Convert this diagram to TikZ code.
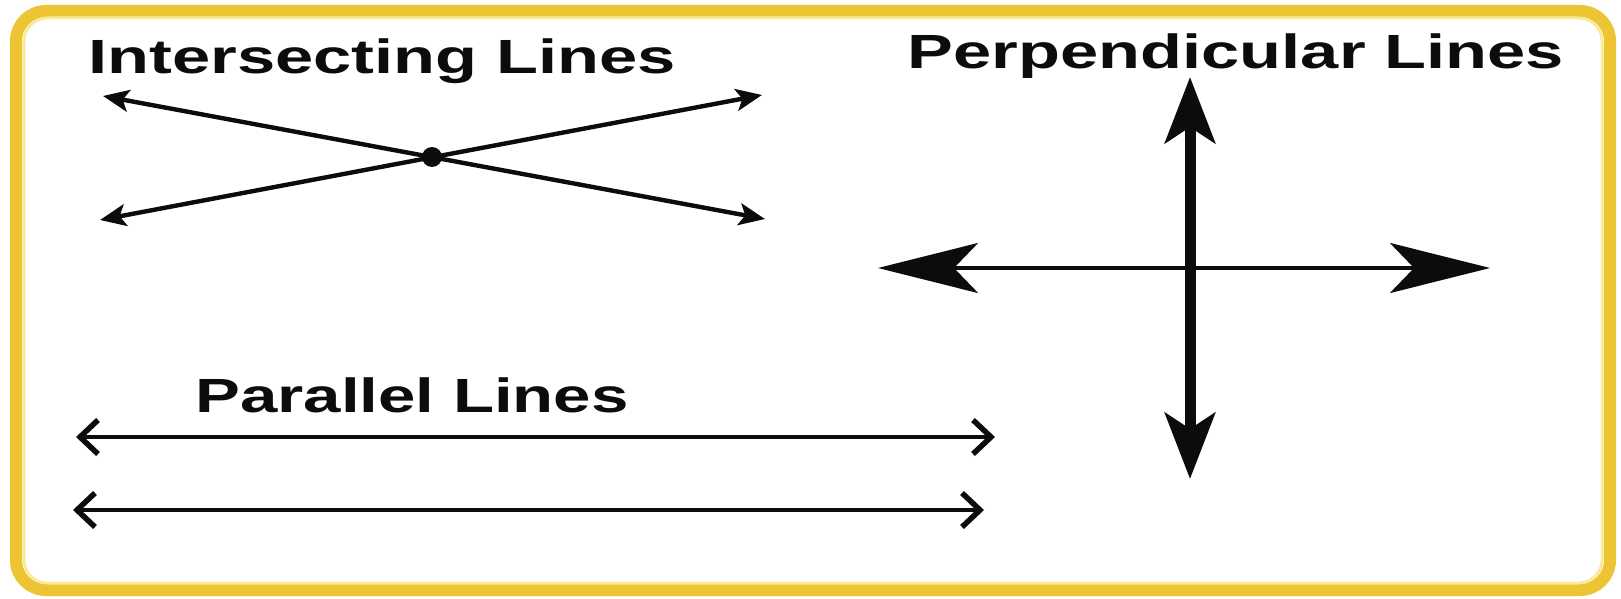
\documentclass[tikz,border=0pt]{standalone}
\usepackage{fontspec}
\setmainfont{Liberation Sans}
\usetikzlibrary{arrows.meta}
\definecolor{frameyellow}{RGB}{236,196,52}
\definecolor{framelight}{RGB}{250,234,150}
\definecolor{ink}{RGB}{12,12,12}
\tikzset{
  title/.style={anchor=base, inner sep=0pt, text=ink, font=\fontsize{48}{56}\selectfont\bfseries},
  thinline/.style={draw=ink, line width=4.4pt},
  xboth/.style={{Stealth[length=26pt,width=22pt,inset=6pt]}-{Stealth[length=26pt,width=22pt,inset=6pt]}},
  hperp/.style={draw=ink, line width=3.8pt, {Stealth[length=100pt,width=50pt,inset=24pt]}-{Stealth[length=100pt,width=50pt,inset=24pt]}},
  vperp/.style={draw=ink, line width=11pt, {Stealth[length=66pt,width=50pt,inset=16pt]}-{Stealth[length=66pt,width=50pt,inset=16pt]}},
  parline/.style={draw=ink, line width=4.2pt, {Straight Barb[length=18pt,width=34pt,line width=5.5pt]}-{Straight Barb[length=18pt,width=34pt,line width=5.5pt]}},
  dotnode/.style={circle, fill=ink, inner sep=0pt, minimum size=20pt}
}
\begin{document}
\begin{tikzpicture}[x=1pt,y=-1pt]
\useasboundingbox (0,0) rectangle (1621,599);
\fill[white] (0,0) rectangle (1621,599);
% frame
\draw[frameyellow, line width=12pt, rounded corners=30pt] (16,11) rectangle (1610,590);
\draw[framelight, line width=3pt, rounded corners=24pt] (24,18) rectangle (1602,583);
\fill[white, rounded corners=22pt] (25.5,19.5) rectangle (1600.5,581.5);

% titles
\node[title] (tInt) at (382,74) {\scalebox{1.43}[1]{Intersecting Lines}};
\node[title] (tPerp) at (1236,69) {\scalebox{1.43}[1]{Perpendicular Lines}};
\node[title] (tPar) at (412,412) {\scalebox{1.40}[1]{Parallel Lines}};

% intersecting lines
\coordinate (ul) at (103,96);
\coordinate (lr) at (765,219);
\coordinate (ll) at (100,220);
\coordinate (ur) at (762,95);
\draw[thinline, xboth] (ul) -- (lr);
\draw[thinline, xboth] (ll) -- (ur);
\node[dotnode] (X) at (432,157) {};

% perpendicular lines
\coordinate (hl) at (878,268);
\coordinate (hr) at (1490,268);
\coordinate (vt) at (1190,77);
\coordinate (vb) at (1190,479);
\draw[hperp] (hl) -- (hr);
\draw[vperp] (vt) -- (vb);

% parallel lines
\coordinate (p1l) at (76,437);
\coordinate (p1r) at (995,437);
\coordinate (p2l) at (73,510);
\coordinate (p2r) at (984,510);
\draw[parline] (p1l) -- (p1r);
\draw[parline] (p2l) -- (p2r);
\end{tikzpicture}
\end{document}
